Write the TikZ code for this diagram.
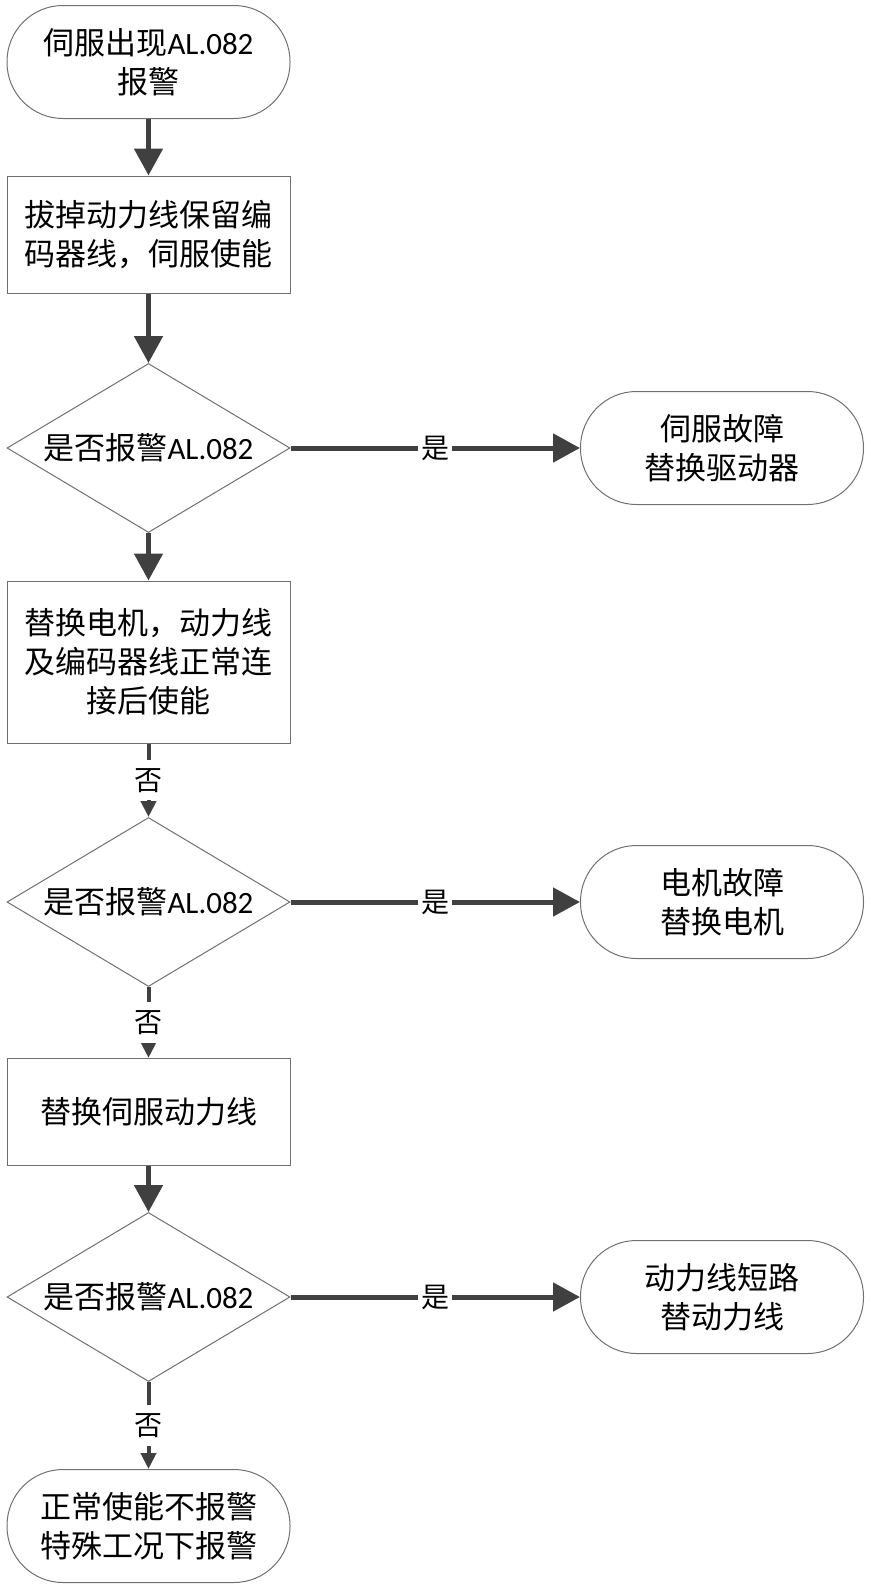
\documentclass[tikz,border=0pt]{standalone}
\usepackage{fontspec}
\usepackage{tikz}
\usetikzlibrary{shapes.geometric,arrows.meta}
\setmainfont{Noto Sans CJK SC}
\newfontfamily\latfont{Carlito}
\newcommand{\alcode}{{\latfont AL.082}}
\definecolor{arrowgray}{HTML}{404040}
\definecolor{edgegray}{HTML}{707070}

\tikzset{
    terminal/.style={draw=edgegray, line width=1pt, rectangle, rounded corners=56pt,
        minimum width=283pt, minimum height=113pt, align=center},
    stepbox/.style={draw=edgegray, line width=1pt, rectangle,
        minimum width=283pt, align=center},
    decision/.style={draw=edgegray, line width=1pt, diamond, aspect=1.67, inner sep=0pt,
        minimum width=283pt, minimum height=169pt},
    bigarrow/.style={draw=arrowgray, line width=5pt,
        -{Triangle[length=27pt,width=28pt]}},
    smallarrow/.style={draw=arrowgray, line width=4pt,
        -{Triangle[length=16pt,width=15pt]}},
    lbl/.style={fill=white, inner xsep=3pt, inner ysep=8pt, font=\fontsize{28}{30}\selectfont}
}

\begin{document}
\begin{tikzpicture}[x=1pt, y=-1pt, font=\fontsize{31}{39}\selectfont]
    \useasboundingbox (0,0) rectangle (870,1590);
    % Left column of steps.
        \node[terminal] (start) at (148.5, 62) {伺服出现\alcode\\报警};
        \node[stepbox, minimum height=117pt] (unplug) at (148.5, 234.5) {拔掉动力线保留编\\码器线，伺服使能};
        \node[decision] (checkA) at (148.5, 448) {是否报警\alcode};
        \node[stepbox, minimum height=162pt] (swapmotor) at (148.5, 662) {替换电机，动力线\\及编码器线正常连\\接后使能};
        \node[decision] (checkB) at (148.5, 902) {是否报警\alcode};
        \node[stepbox, minimum height=107pt] (swapcable) at (148.5, 1112) {替换伺服动力线};
        \node[decision] (checkC) at (148.5, 1297) {是否报警\alcode};
        \node[terminal] (normal) at (148.5, 1526) {正常使能不报警\\特殊工况下报警};
    % Right column of results.
        \node[terminal] (drivefault) at (722, 448) {伺服故障\\替换驱动器};
        \node[terminal] (motorfault) at (722, 902) {电机故障\\替换电机};
        \node[terminal] (shortfault) at (722, 1297) {动力线短路\\替动力线};
    % Below are the connectors.
        \draw[bigarrow] (start) -- (unplug);
        \draw[bigarrow] (unplug) -- (checkA);
        \draw[bigarrow] (checkA) -- node[lbl] {是} (drivefault);
        \draw[bigarrow] (checkA) -- (swapmotor);
        \draw[smallarrow] (swapmotor) -- node[lbl] {否} (checkB);
        \draw[bigarrow] (checkB) -- node[lbl] {是} (motorfault);
        \draw[smallarrow] (checkB) -- node[lbl] {否} (swapcable);
        \draw[bigarrow] (swapcable) -- (checkC);
        \draw[bigarrow] (checkC) -- node[lbl] {是} (shortfault);
        \draw[smallarrow] (checkC) -- node[lbl] {否} (normal);
\end{tikzpicture}
\end{document}
